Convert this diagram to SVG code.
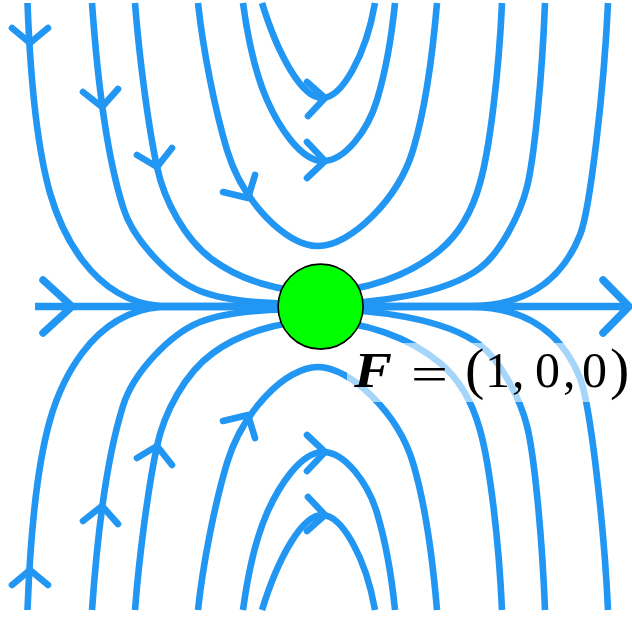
<svg xmlns="http://www.w3.org/2000/svg" width="632" height="617" viewBox="0 0 632 617">
<style>
.s{fill:none;stroke:#2196F3;stroke-width:6.6;stroke-linecap:butt;stroke-linejoin:round}
.a{fill:none;stroke:#2196F3;stroke-width:6.6;stroke-linecap:round;stroke-linejoin:round}
.ax{fill:none;stroke:#2196F3;stroke-width:7.5;stroke-linecap:butt}
.axa{fill:none;stroke:#2196F3;stroke-width:7.5;stroke-linecap:round;stroke-linejoin:round}
.t{font-family:"Liberation Serif","DejaVu Serif",serif;font-size:50px;fill:#000}
.p{font-size:58px}
</style>
<rect width="632" height="617" fill="#fff"/>
<g id="connectors">
  <g id="upper">
    <path class="s" d="M27.5,3 C30,70 35,140 50,193 C60,228 90,300 160,306 L470,306 C520,306 560,285 580,235 C590,210 604,90 608,3"/>
    <path class="s" d="M92,3 C96,60 105,150 123,207 C133,240 170,279 200,291 C230,303 280,304 318,304 C370,304 445,295 480,268 C500,253 520,215 527,187 C534,159 542,80 545,3"/>
    <path class="s" d="M135,3 C139,55 148,125 157,167 C164,200 185,240 213,260 C240,280 280,292 318,292 C365,292 410,275 440,250 C458,235 472,212 480,183 C490,148 499,70 502,3"/>
    <path class="s" d="M198,3 C203,50 215,110 227,150 C242,200 285,246 318,246 C350,246 398,200 413,150 C425,110 433,50 437,3"/>
    <path class="s" d="M243,3 C248,40 256,75 267,100 C278,125 300,161 323,161 C345,161 368,130 377,100 C386,70 392,33 395,3"/>
    <path class="s" d="M262,3 C278,55 302,98 322,98 C342,98 366,55 375,3"/>
    <path class="a" d="M12,28 L30,43 L48,28"/>
    <path class="a" d="M83,92 L102,107 L118,89"/>
    <path class="a" d="M137,155 L157,167 L172,148"/>
    <path class="a" d="M223,192 L248,198 L255,175"/>
    <path class="a" d="M307,142 L325,161 L307,178"/>
    <path class="a" d="M307,82 L325,98 L308,116"/>
  </g>
  <use href="#upper" transform="matrix(1 0 0 -1 0 613)"/>
  <path class="ax" d="M35,306.5 L628,306.5"/>
  <path class="axa" d="M43,280 L72,306.5 L43,333"/>
  <path class="axa" d="M603,280 L629,306.5 L603,333"/>
</g>
<g id="node-F">
  <circle cx="320.6" cy="306.6" r="42.5" fill="#00ff00" stroke="#000" stroke-width="1.6"/>
</g>
<g id="label">
  <rect x="347" y="343" width="284" height="59" fill="#fff" fill-opacity="0.6"/>
  <text class="t" y="387"><tspan x="354" font-weight="bold" font-style="italic" textLength="38" lengthAdjust="spacingAndGlyphs">F</tspan><tspan x="411" y="391" textLength="37" lengthAdjust="spacingAndGlyphs">=</tspan><tspan class="p" x="465" y="388">(</tspan><tspan x="485" y="387">1</tspan><tspan x="512">,</tspan><tspan x="535">0</tspan><tspan x="563">,</tspan><tspan x="582">0</tspan><tspan class="p" x="610" y="388">)</tspan></text>
</g>
</svg>
